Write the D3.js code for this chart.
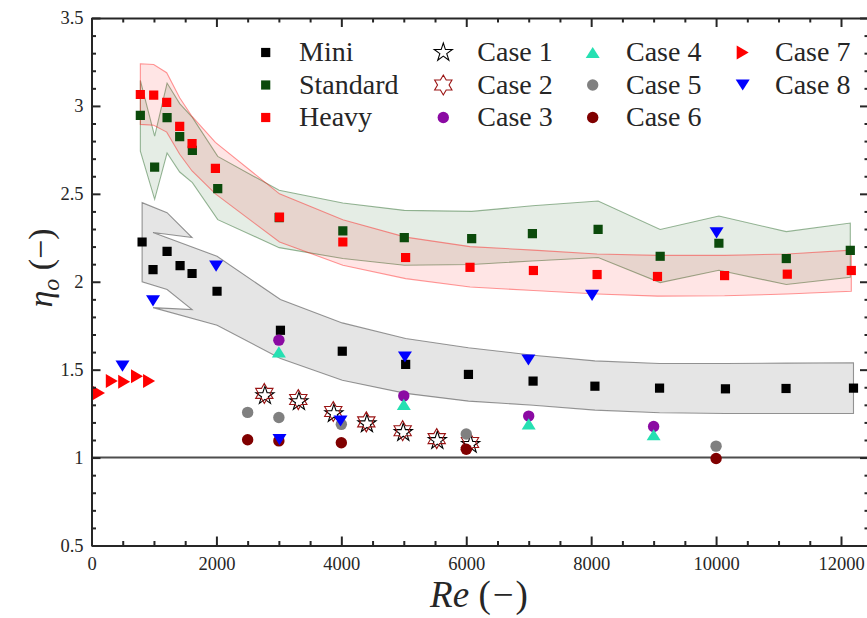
<!DOCTYPE html>
<html>
<head>
<meta charset="utf-8">
<script src="https://cdn.jsdelivr.net/npm/d3@7"></script>
<style>
  html, body { margin: 0; padding: 0; background: #ffffff; }
  svg { display: block; }
  text { font-family: "Liberation Serif", "DejaVu Serif", serif; fill: #262626; }
</style>
</head>
<body>
<svg id="chart" width="867" height="618"></svg>
<script>
// ---- Mini device ----
const miniRe  = [810, 985, 1210, 1418, 1610, 2010, 3025, 4015, 5030, 6035, 7070, 8060, 9095, 10150, 11120, 12200];
const miniEta = [2.226, 2.069, 2.173, 2.092, 2.047, 1.946, 1.724, 1.605, 1.530, 1.473, 1.435, 1.406, 1.395, 1.391, 1.393, 1.395];
const miniBandRe = [810, 1210, 1610, 985, 2010, 3025, 4015, 5030, 6035, 7070, 8060, 9095, 10150, 11120, 12200];
const miniBandHi = [2.450, 2.393, 2.251, 2.280, 2.145, 1.899, 1.766, 1.677, 1.625, 1.582, 1.550, 1.535, 1.535, 1.537, 1.539];
const miniBandLo = [2.000, 1.956, 1.842, 1.853, 1.753, 1.564, 1.440, 1.365, 1.321, 1.298, 1.270, 1.255, 1.251, 1.251, 1.251];

// ---- Standard device ----
const stdRe  = [782, 1011, 1210, 1412, 1615, 2021, 3005, 4024, 5008, 6087, 7059, 8111, 9105, 10045, 11124, 12149];
const stdEta = [2.946, 2.652, 2.933, 2.825, 2.747, 2.530, 2.365, 2.289, 2.251, 2.245, 2.274, 2.298, 2.145, 2.219, 2.132, 2.179];
const stdHi  = [3.145, 2.828, 3.130, 3.013, 2.935, 2.713, 2.520, 2.448, 2.406, 2.400, 2.432, 2.459, 2.297, 2.374, 2.285, 2.334];
const stdLo  = [2.743, 2.469, 2.732, 2.624, 2.564, 2.353, 2.194, 2.132, 2.094, 2.098, 2.118, 2.138, 1.995, 2.065, 1.984, 2.026];

// ---- Heavy device ----
const heavyRe  = [782, 996, 1204, 1412, 1610, 1984, 3010, 4024, 5029, 6060, 7075, 8095, 9062, 10136, 11140, 12165];
const heavyEta = [3.065, 3.061, 3.020, 2.884, 2.785, 2.645, 2.368, 2.226, 2.138, 2.082, 2.064, 2.041, 2.030, 2.035, 2.043, 2.064];
const heavyHi  = [3.240, 3.236, 3.189, 3.046, 2.940, 2.793, 2.500, 2.353, 2.254, 2.200, 2.180, 2.158, 2.150, 2.150, 2.158, 2.180];
const heavyLo  = [2.895, 2.890, 2.851, 2.725, 2.630, 2.500, 2.226, 2.094, 2.018, 1.970, 1.950, 1.930, 1.918, 1.920, 1.930, 1.946];

// ---- Literature cases ----
const case1Re  = [2777, 3321, 3881, 4410, 4992, 5537, 6070];
const case1Eta = [1.352, 1.318, 1.250, 1.192, 1.142, 1.097, 1.075];
const case2Re  = [2767, 3311, 3871, 4400, 4982, 5527, 6060];
const case2Eta = [1.365, 1.330, 1.262, 1.203, 1.153, 1.108, 1.086];
const case3Re  = [3000, 5000, 7000, 9000];
const case3Eta = [1.668, 1.351, 1.236, 1.177];
const case4Re  = [3000, 5000, 7000, 9000];
const case4Eta = [1.601, 1.303, 1.192, 1.130];
const case5Re  = [2500, 3000, 4000, 6000, 10000];
const case5Eta = [1.257, 1.228, 1.189, 1.134, 1.065];
const case6Re  = [2500, 3000, 4000, 6000, 10000];
const case6Eta = [1.101, 1.095, 1.084, 1.047, 0.995];
const case7Re  = [120, 325, 523, 728, 922];
const case7Eta = [1.368, 1.436, 1.431, 1.463, 1.436];
const case8Re  = [496, 985, 1995, 3010, 3987, 5018, 6995, 8014, 10008];
const case8Eta = [1.520, 1.891, 2.089, 1.102, 1.208, 1.572, 1.555, 1.923, 2.278];

// ---- Axis ticks ----
const xTickValues = [0, 2000, 4000, 6000, 8000, 10000, 12000];
const xTickLabels = ["0", "2000", "4000", "6000", "8000", "10000", "12000"];
const yTickValues = [0.5, 1, 1.5, 2, 2.5, 3, 3.5];
const yTickLabels = ["0.5", "1", "1.5", "2", "2.5", "3", "3.5"];
const referenceEta = 1;

const serifFont = "'Liberation Serif', 'DejaVu Serif', serif";

// ---- Scales ----
const plotLeft = 91.5, plotRight = 869, plotTop = 18, plotBottom = 545.5;
const x = d3.scaleLinear().domain([0, 12000]).range([plotLeft, 841]);
const xMax = x.invert(plotRight);
const xFull = x.copy().domain([0, xMax]).range([plotLeft, plotRight]);
const y = d3.scaleLinear().domain([0.5, 3.5]).range([plotBottom, plotTop]);

const svg = d3.select("#chart");
svg.append("rect").attr("width", 867).attr("height", 618).attr("fill", "#ffffff");

svg.append("defs").append("clipPath").attr("id", "plotclip")
  .append("rect").attr("x", plotLeft).attr("y", plotTop)
  .attr("width", plotRight - plotLeft).attr("height", plotBottom - plotTop);

const plot = svg.append("g").attr("clip-path", "url(#plotclip)");

// ---- Uncertainty bands ----
function bandRows(re, hi, lo) { return re.map((r, i) => ({ re: r, hi: hi[i], lo: lo[i] })); }
const area = d3.area().x(d => x(d.re)).y0(d => y(d.lo)).y1(d => y(d.hi));

function drawBand(rows, color) {
  plot.append("path").datum(rows)
    .attr("d", area)
    .attr("fill", color).attr("fill-opacity", 0.1)
    .attr("stroke", color).attr("stroke-opacity", 0.4).attr("stroke-width", 1.1);
}
drawBand(bandRows(miniBandRe, miniBandHi, miniBandLo), "#000000");
drawBand(bandRows(stdRe, stdHi, stdLo), "#004d00");
drawBand(bandRows(heavyRe, heavyHi, heavyLo), "#ff0000");

// ---- Reference line eta = 1 ----
plot.append("line")
  .attr("x1", x(0)).attr("x2", xFull(xMax))
  .attr("y1", y(referenceEta)).attr("y2", y(referenceEta))
  .attr("stroke", "#4d4d4d").attr("stroke-width", 2);

// ---- Marker shapes (centred on the point) ----
function starPath(n, R, r) {
  const pts = [];
  for (let k = 0; k < 2 * n; k++) {
    const a = -Math.PI / 2 + k * Math.PI / n;
    const rad = k % 2 === 0 ? R : r;
    pts.push([rad * Math.cos(a), rad * Math.sin(a)]);
  }
  return "M" + pts.map(p => p[0].toFixed(2) + "," + p[1].toFixed(2)).join("L") + "Z";
}
const shapes = {
  square:   "M-4.6,-4.6L4.6,-4.6L4.6,4.6L-4.6,4.6Z",
  triDown:  "M-7,-5.6L7,-5.6L0,5.6Z",
  triUp:    "M-7,5.6L7,5.6L0,-5.6Z",
  triRight: "M-6,-7L6,0L-6,7Z",
  penta:    starPath(5, 9.5, 9.5 * 0.382),
  hexa:     starPath(6, 10, 10 / Math.sqrt(3)),
  circle:   d3.symbol(d3.symbolCircle, Math.PI * 5.7 * 5.7)()
};

const series = [
  { name: "Mini",     re: miniRe,  eta: miniEta,  shape: "square",   fill: "#000000", stroke: "none" },
  { name: "Standard", re: stdRe,   eta: stdEta,   shape: "square",   fill: "#0b4a0b", stroke: "none" },
  { name: "Heavy",    re: heavyRe, eta: heavyEta, shape: "square",   fill: "#ff0000", stroke: "none" },
  { name: "Case 1",   re: case1Re, eta: case1Eta, shape: "penta",    fill: "none",    stroke: "#000000" },
  { name: "Case 2",   re: case2Re, eta: case2Eta, shape: "hexa",     fill: "none",    stroke: "#9a1414" },
  { name: "Case 3",   re: case3Re, eta: case3Eta, shape: "circle",   fill: "#8b0aa3", stroke: "none" },
  { name: "Case 4",   re: case4Re, eta: case4Eta, shape: "triUp",    fill: "#26e0b2", stroke: "none" },
  { name: "Case 5",   re: case5Re, eta: case5Eta, shape: "circle",   fill: "#808080", stroke: "none" },
  { name: "Case 6",   re: case6Re, eta: case6Eta, shape: "circle",   fill: "#800000", stroke: "none" },
  { name: "Case 7",   re: case7Re, eta: case7Eta, shape: "triRight", fill: "#ff0000", stroke: "none" },
  { name: "Case 8",   re: case8Re, eta: case8Eta, shape: "triDown",  fill: "#0000ff", stroke: "none" }
];

series.forEach(s => {
  plot.append("g").selectAll("path")
    .data(s.re.map((r, i) => ({ re: r, eta: s.eta[i] })))
    .join("path")
    .attr("d", shapes[s.shape])
    .attr("transform", d => `translate(${x(d.re)},${y(d.eta)})`)
    .attr("fill", s.fill)
    .attr("stroke", s.stroke)
    .attr("stroke-width", 1.1);
});

// ---- Frame with inward ticks ----
const frameColor = "#262626";
const minorX = d3.range(500, 12500, 500).filter(v => v % 2000 !== 0);
const minorY = d3.range(6, 35, 1).filter(v => v % 5 !== 0).map(v => v / 10);

function styleAxis(g) {
  g.attr("font-family", null).attr("font-size", null);
  g.selectAll("path.domain").attr("stroke", frameColor).attr("stroke-width", 2);
  g.selectAll(".tick line").attr("stroke", frameColor).attr("stroke-width", 2);
  g.selectAll(".tick text").attr("fill", frameColor)
    .style("font-size", "18.5px").style("font-family", serifFont);
}

// bottom
svg.append("g").attr("transform", `translate(0,${plotBottom})`)
  .call(d3.axisBottom(x).tickValues(minorX).tickSize(-4.5).tickSizeOuter(0).tickFormat(""))
  .call(g => g.select(".domain").remove()).call(styleAxis);
svg.append("g").attr("transform", `translate(0,${plotBottom})`)
  .call(d3.axisBottom(xFull).tickValues(xTickValues).tickSize(-9).tickSizeOuter(0).tickPadding(11)
    .tickFormat((d, i) => xTickLabels[i]))
  .call(styleAxis);
// top
svg.append("g").attr("transform", `translate(0,${plotTop})`)
  .call(d3.axisTop(x).tickValues(minorX).tickSize(-4.5).tickSizeOuter(0).tickFormat(""))
  .call(g => g.select(".domain").remove()).call(styleAxis);
svg.append("g").attr("transform", `translate(0,${plotTop})`)
  .call(d3.axisTop(xFull).tickValues(xTickValues).tickSize(-9).tickSizeOuter(0).tickFormat(""))
  .call(styleAxis);
// left
svg.append("g").attr("transform", `translate(${plotLeft},0)`)
  .call(d3.axisLeft(y).tickValues(minorY).tickSize(-4.5).tickSizeOuter(0).tickFormat(""))
  .call(g => g.select(".domain").remove()).call(styleAxis);
svg.append("g").attr("transform", `translate(${plotLeft},0)`)
  .call(d3.axisLeft(y).tickValues(yTickValues).tickSize(-9).tickSizeOuter(0).tickPadding(8)
    .tickFormat((d, i) => yTickLabels[i]))
  .call(styleAxis);
// right
svg.append("g").attr("transform", `translate(${plotRight},0)`)
  .call(d3.axisRight(y).tickValues(minorY).tickSize(-4.5).tickSizeOuter(0).tickFormat(""))
  .call(g => g.select(".domain").remove()).call(styleAxis);
svg.append("g").attr("transform", `translate(${plotRight},0)`)
  .call(d3.axisRight(y).tickValues(yTickValues).tickSize(-9).tickSizeOuter(0).tickFormat(""))
  .call(styleAxis);

// ---- Axis titles ----
const xTitle = svg.append("text")
  .attr("x", 479).attr("y", 607).attr("text-anchor", "middle")
  .style("font-family", serifFont).style("font-size", "37px");
xTitle.append("tspan").style("font-style", "italic").text("Re");
xTitle.append("tspan").text(" (");
xTitle.append("tspan").attr("dx", 2).text("\u2212");
xTitle.append("tspan").attr("dx", 2).text(")");

const yTitle = svg.append("text")
  .attr("transform", "translate(52,268) rotate(-90)")
  .attr("text-anchor", "middle")
  .style("font-family", serifFont).style("font-size", "34px");
yTitle.append("tspan").style("font-style", "italic").text("\u03B7");
yTitle.append("tspan").style("font-style", "italic").style("font-size", "24px").attr("dy", "7").text("o");
yTitle.append("tspan").attr("dy", "-7").text(" (\u2212)");

// ---- Legend (3 rows x 4 columns) ----
const legendMarkerX = [265.7, 443.3, 592.7, 742.7];
const legendTextX = [299, 477.3, 626, 775];
const legendRowY = [52.5, 85, 117.5];
const legendColumns = [
  ["Mini", "Standard", "Heavy"],
  ["Case 1", "Case 2", "Case 3"],
  ["Case 4", "Case 5", "Case 6"],
  ["Case 7", "Case 8"]
];
const legend = svg.append("g");
legendColumns.forEach((col, ci) => {
  col.forEach((name, ri) => {
    const s = series.find(t => t.name === name);
    legend.append("path")
      .attr("d", shapes[s.shape])
      .attr("transform", `translate(${legendMarkerX[ci]},${legendRowY[ri]})`)
      .attr("fill", s.fill === "none" ? "#ffffff" : s.fill)
      .attr("stroke", s.stroke).attr("stroke-width", 1.1);
    legend.append("text")
      .attr("x", legendTextX[ci]).attr("y", legendRowY[ri] + 8.8)
      .style("font-family", serifFont).style("font-size", "28px")
      .text(name);
  });
});
</script>
</body>
</html>
